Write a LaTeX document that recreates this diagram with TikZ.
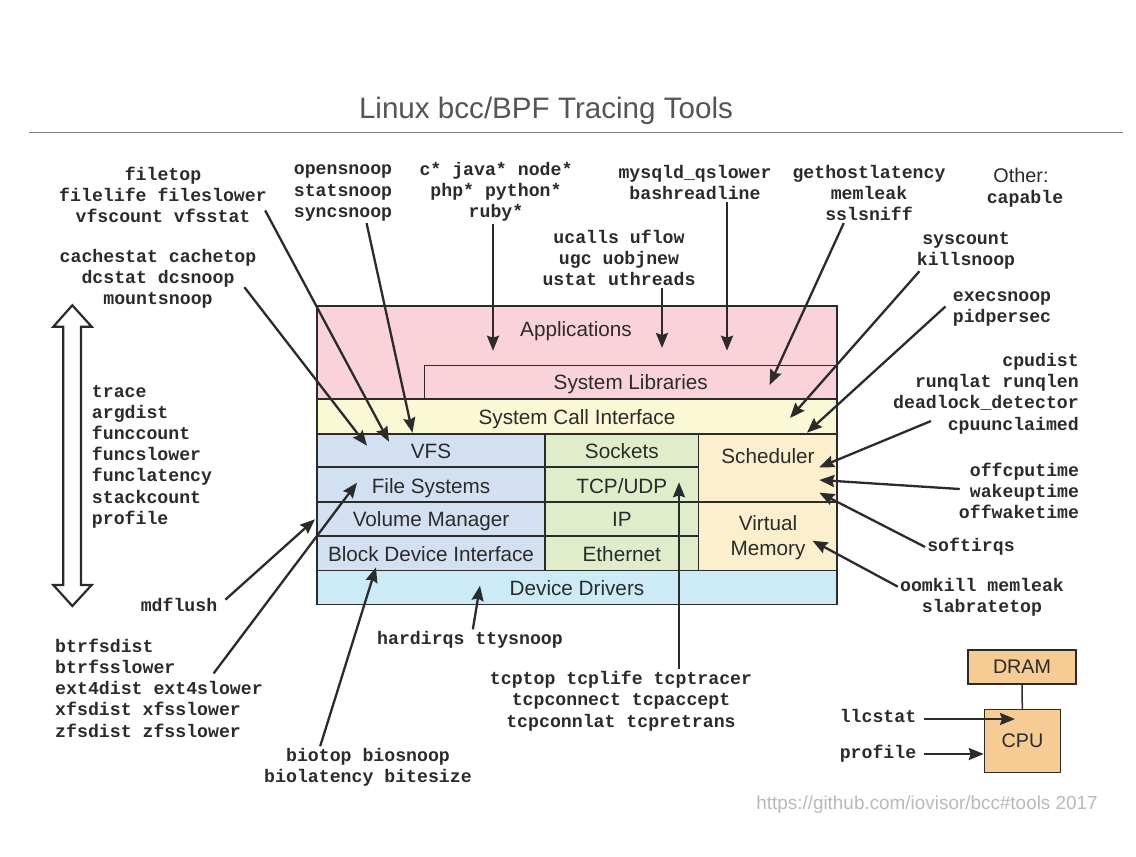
\documentclass[tikz,border=0pt]{standalone}
\usepackage{fontspec}
\setmainfont{Liberation Sans}
\setmonofont{Liberation Mono}
\usetikzlibrary{arrows.meta}
\definecolor{apppink}{HTML}{FAD3DA}
\definecolor{sysyellow}{HTML}{FBF8D6}
\definecolor{fsblue}{HTML}{D3E0F2}
\definecolor{netgreen}{HTML}{DFEDCB}
\definecolor{kernorange}{HTML}{FBEFCE}
\definecolor{devcyan}{HTML}{CDEBF6}
\definecolor{hwtan}{HTML}{F6CB94}
\definecolor{inkdark}{HTML}{2B2B2B}

\begin{document}
\begin{tikzpicture}[
    x=1pt, y=-1pt,
    layerbox/.style={rectangle, draw=inkdark, line width=1.5pt, inner sep=0pt, text=inkdark,
                     text height=16pt, text depth=0.5pt, font=\fontsize{20.7}{25}\selectfont},
    layertext/.style={text=inkdark, inner sep=0pt, align=center, font=\fontsize{20.7}{25}\selectfont},
    hwbox/.style={layerbox, fill=hwtan, text height=12.5pt, font=\fontsize{19.7}{25}\selectfont},
    toolsnode/.style={inner sep=2pt, text=inkdark, font=\ttfamily\bfseries\fontsize{18.2}{21.2}\selectfont},
    toolarrow/.style={-{Stealth[length=15pt,width=12pt,inset=2pt]}, draw=inkdark, line width=2.3pt},
]
    \useasboundingbox (0,0) rectangle (1136,857);
    \fill[white] (0,0) rectangle (1136,857);

    %Title
    \node[text=inkdark!80, font=\fontsize{29.6}{34}\selectfont] (title) at (546,110.5) {Linux bcc/BPF Tracing Tools};
    \coordinate (ruleleft) at (29,132.5);
    \coordinate (ruleright) at (1123,132.5);
    \draw[gray, line width=1pt] (ruleleft) -- (ruleright);

    %Layers
    \node[layerbox, fill=apppink, minimum width=520pt, minimum height=93pt]      (appbox)  at (577,352.5) {};
    \node[layertext, text height=14.5pt, text depth=0.5pt]                        (apps)    at (576,329)   {Applications};
    \node[layerbox, fill=apppink, minimum width=412.4pt, minimum height=33.7pt]  (syslibs) at (630.8,382.2) {System Libraries};
    \node[layerbox, fill=sysyellow, minimum width=520pt, minimum height=35pt]    (syscall) at (577,416.5) {System Call Interface};
    \node[layerbox, fill=fsblue, minimum width=228pt, minimum height=33pt]       (vfs)     at (431,450.5) {VFS};
    \node[layerbox, fill=fsblue, minimum width=228pt, minimum height=35pt, text height=18pt] (filesys) at (431,484.5) {File Systems};
    \node[layerbox, fill=fsblue, minimum width=228pt, minimum height=34pt]       (volman)  at (431,519)   {Volume Manager};
    \node[layerbox, fill=fsblue, minimum width=228pt, minimum height=34.7pt]     (blockdev) at (431,553.4) {Block Device Interface};
    \node[layerbox, fill=netgreen, minimum width=153.6pt, minimum height=33pt]   (sockets) at (621.8,450.5) {Sockets};
    \node[layerbox, fill=netgreen, minimum width=153.6pt, minimum height=35pt, text height=18pt] (tcpudp) at (621.8,484.5) {TCP/UDP};
    \node[layerbox, fill=netgreen, minimum width=153.6pt, minimum height=34pt]   (ipnet)   at (621.8,519)   {IP};
    \node[layerbox, fill=netgreen, minimum width=153.6pt, minimum height=34.7pt] (ethernet) at (621.8,553.4) {Ethernet};
    \node[layerbox, fill=kernorange, minimum width=138.4pt, minimum height=68pt] (schedbox) at (767.8,468) {};
    \node[layertext, text height=14.5pt, text depth=0.5pt]                        (sched)   at (768,456)   {Scheduler};
    \node[layerbox, fill=kernorange, minimum width=138.4pt, minimum height=68.7pt] (vmbox)  at (767.8,536.4) {};
    \node[layertext]                                                              (virtmem) at (768,537.5) {Virtual\\Memory};
    \node[layerbox, fill=devcyan, minimum width=520pt, minimum height=33.6pt]    (devdrv)  at (577,587.5) {Device Drivers};

    %Hardware
    \node[hwbox, minimum width=108pt, minimum height=34pt] (dram) at (1022,667)   {DRAM};
    \node[hwbox, minimum width=76pt, minimum height=63pt]  (cpu)  at (1022.5,741) {CPU};

    %Tool lists
    \node[toolsnode, align=center] (filetools)  at (163,195)   {filetop\\filelife fileslower\\vfscount vfsstat};
    \node[toolsnode, align=center] (cachetools) at (158,278.5) {cachestat cachetop\\dcstat dcsnoop\\mountsnoop};
    \node[toolsnode, align=center] (opentools)  at (343,193)   {opensnoop\\statsnoop\\syncsnoop};
    \node[toolsnode, align=center] (langtools)  at (496,192)   {c* java* node*\\php* python*\\ruby*};
    \node[toolsnode, align=center] (ucalltools) at (619,258)   {ucalls uflow\\ugc uobjnew\\ustat uthreads};
    \node[toolsnode, align=center] (mysqltools) at (695,182.5) {mysqld\_qslower\\bashreadline};
    \node[toolsnode, align=center] (hosttools)  at (869,193)   {gethostlatency\\memleak\\sslsniff};
    \node[font=\fontsize{19.8}{24}\selectfont, text=inkdark, inner sep=1pt] (other) at (1021,175) {Other:};
    \node[toolsnode]               (capable)    at (1025,199)  {capable};
    \node[toolsnode, align=center] (systools)   at (966,250.5) {syscount\\killsnoop};
    \node[toolsnode, align=center] (exectools)  at (1002,309)  {execsnoop\\pidpersec};
    \node[toolsnode, align=right]  (cputools)   at (986,393.5) {cpudist\\runqlat runqlen\\deadlock\_detector\\cpuunclaimed};
    \node[toolsnode, align=right]  (offtools)   at (1019,491)  {offcputime\\wakeuptime\\offwaketime};
    \node[toolsnode]               (softirqs)   at (971,547)   {softirqs};
    \node[toolsnode, align=center] (oomtools)   at (982,597)   {oomkill memleak\\slabratetop};
    \node[toolsnode, align=left]   (tracetools) at (152,456.5) {trace\\argdist\\funccount\\funcslower\\funclatency\\stackcount\\profile};
    \node[toolsnode]               (mdflush)    at (179,605)   {mdflush};
    \node[toolsnode, align=left]   (btrfstools) at (159,688)   {btrfsdist\\btrfsslower\\ext4dist ext4slower\\xfsdist xfsslower\\zfsdist zfsslower};
    \node[toolsnode, align=center] (biotools)   at (368,767.5) {biotop biosnoop\\biolatency bitesize};
    \node[toolsnode]               (hardtools)  at (470,640)   {hardirqs ttysnoop};
    \node[toolsnode, align=center] (tcptools)   at (621,701)   {tcptop tcplife tcptracer\\tcpconnect tcpaccept\\tcpconnlat tcpretrans};
    \node[toolsnode, text depth=6pt] (llcstat)  at (878,719)   {llcstat};
    \node[toolsnode]               (cpuprofile) at (878,754)   {profile};
    \node[text=gray!55, font=\fontsize{18.9}{22}\selectfont] (source) at (927,804.5) {https://github.com/iovisor/bcc\#tools 2017};

    %Double arrow
    \draw[draw=inkdark, line width=2.2pt, miter limit=4]
        (72.3,305.3) -- (91.7,326.7) -- (81,326.7) -- (81,585) -- (91.7,585) -- (72.3,606)
        -- (53.3,585) -- (63.3,585) -- (63.3,326.7) -- (53.3,326.7) -- cycle;

    %Arrow ends
    \coordinate (tipfile)  at (389,441.7);
    \coordinate (tipcache) at (367,445.7);
    \coordinate (tipopen)  at (412.5,432.7);
    \coordinate (tiplang)  at (493,350.7);
    \coordinate (tipucall) at (662,348);
    \coordinate (tipmysql) at (727,350.7);
    \coordinate (tiphost)  at (769.6,385);
    \coordinate (tipsys)   at (790,418);
    \coordinate (tipexec)  at (807,432.7);
    \coordinate (tipcpu)   at (819.3,467.3);
    \coordinate (tipoff)   at (819.3,480);
    \coordinate (tipsoft)  at (819.3,492.7);
    \coordinate (tipoom)   at (812.5,540.7);
    \coordinate (tipbtrfs) at (357,482.7);
    \coordinate (tipmd)    at (315,519.3);
    \coordinate (tipbio)   at (376,567.3);
    \coordinate (tiphard)  at (480,585.7);
    \coordinate (tiptcp)   at (679,482.3);
    \coordinate (tipllc)   at (1015,719);

    %Lines
    \draw[toolarrow, shorten <=-8pt] (filetools.-12.8) -- (tipfile);
    \draw[toolarrow, shorten <=-23pt] (cachetools.-15.4) -- (tipcache);
    \draw[toolarrow] (opentools.-52) -- (tipopen);
    \draw[toolarrow] (langtools.south -| tiplang) -- (tiplang);
    \draw[toolarrow] (ucalltools.south -| tipucall) -- (tipucall);
    \draw[toolarrow] (mysqltools.south -| tipmysql) -- (tipmysql);
    \draw[toolarrow] (hosttools.230) -- (tiphost);
    \draw[toolarrow] (systools.204) -- (tipsys);
    \draw[toolarrow, shorten <=7pt] (exectools.172) -- (tipexec);
    \draw[toolarrow, shorten <=-39pt] (cputools.205) -- (tipcpu);
    \draw[toolarrow, shorten <=-3pt] (offtools.178) -- (tipoff);
    \draw[toolarrow] (softirqs.west) -- (tipsoft);
    \draw[toolarrow] (oomtools.173) -- (tipoom);
    \draw[toolarrow, shorten <=-46pt] (btrfstools.32.9) -- (tipbtrfs);
    \draw[toolarrow, shorten <=8pt] (mdflush.east) -- (tipmd);
    \draw[toolarrow] (biotools.156) -- (tipbio);
    \draw[toolarrow] (hardtools.75) -- (tiphard);
    \draw[toolarrow] (tcptools.north -| tiptcp) -- (tiptcp);
    \draw[toolarrow, shorten <=6pt] (llcstat.east) -- (llcstat.east -| tipllc);
    \draw[toolarrow, shorten <=6pt] (cpuprofile.east) -- (cpuprofile.east -| cpu.west);
    \draw[draw=inkdark, line width=1.5pt] (dram) -- (cpu);
\end{tikzpicture}
\end{document}
